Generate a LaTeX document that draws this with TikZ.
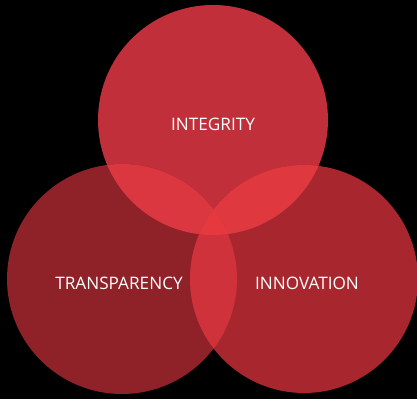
\documentclass[tikz,border=0pt]{standalone}
\usepackage{fontspec}
\setmainfont{Open Sans}
\definecolor{cTop}{HTML}{C1303A}
\definecolor{cLeft}{HTML}{8E2228}
\definecolor{cRight}{HTML}{A8272F}
\definecolor{cTL}{HTML}{DA3740}
\definecolor{cTR}{HTML}{E0383F}
\definecolor{cLR}{HTML}{D0323B}
\definecolor{cAll}{HTML}{E5393F}
\begin{document}
\begin{tikzpicture}[x=1pt,y=1pt,
  lbl/.style={text=white,font=\fontsize{17.2}{20}\selectfont}]
\fill[black] (0,0) rectangle (417,399);
\useasboundingbox (0,0) rectangle (417,399);
\coordinate (T) at (213,279);
\coordinate (L) at (122,120);
\coordinate (R) at (304,120);
\def\rT{115}\def\rL{115}\def\rR{114}
\fill[cTop] (T) circle (\rT);
\fill[cLeft] (L) circle (\rL);
\fill[cRight] (R) circle (\rR);
\begin{scope}
  \clip (T) circle (\rT);
  \fill[cTL] (L) circle (\rL);
  \fill[cTR] (R) circle (\rR);
\end{scope}
\begin{scope}
  \clip (L) circle (\rL);
  \fill[cLR] (R) circle (\rR);
  \clip (T) circle (\rT);
  \fill[cAll] (R) circle (\rR);
\end{scope}
\node[lbl] (nI) at (213,275) {INTEGRITY};
\node[lbl] (nT) at (119,116) {TRANSPARENCY};
\node[lbl] (nN) at (307,116) {INNOVATION};
\end{tikzpicture}
\end{document}
